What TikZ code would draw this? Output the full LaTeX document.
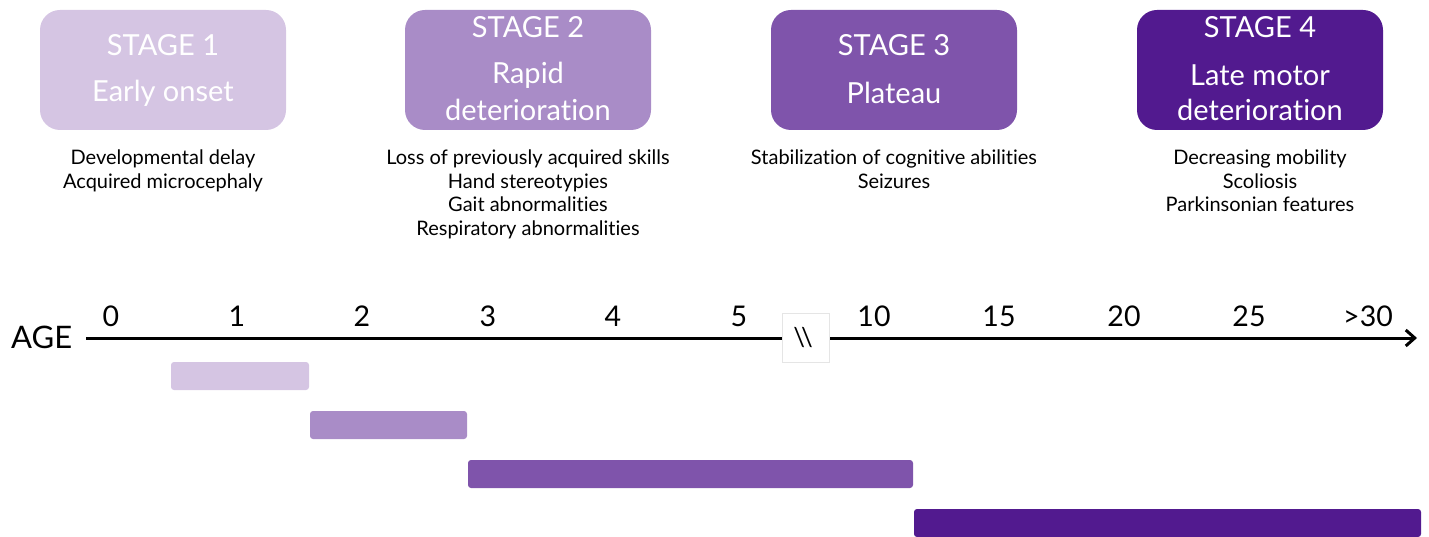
\documentclass[tikz,border=0pt]{standalone}
\usepackage{fontspec}
\setmainfont{Lato}[Ligatures={NoCommon,NoContextual,NoRare}]
\usetikzlibrary{arrows.meta}
\definecolor{sA}{HTML}{D5C5E3}
\definecolor{sB}{HTML}{A98CC7}
\definecolor{sC}{HTML}{7F54AB}
\definecolor{sD}{HTML}{521A8F}
\begin{document}
\begin{tikzpicture}[x=1pt,y=-1pt,
  stagebox/.style={rounded corners=20pt, minimum width=246pt, minimum height=120pt, inner sep=0pt},
  stagetext/.style={text=white, font=\fontsize{29}{35}\selectfont, inner sep=0pt},
  desc/.style={align=center, anchor=north, font=\fontsize{20}{23.5}\selectfont, inner sep=0pt},
  tick/.style={font=\fontsize{28.5}{30}\selectfont, inner sep=0pt},
  bar/.style={rounded corners=3pt, minimum height=28pt, inner sep=0pt}
]
\useasboundingbox (0,0) rectangle (1429,537);
% stage boxes
\node[stagebox, fill=sA] (s1) at (163,70) {};
\node[stagebox, fill=sB] (s2) at (528,70) {};
\node[stagebox, fill=sC] (s3) at (894,70) {};
\node[stagebox, fill=sD] (s4) at (1260,70) {};
\node[stagetext] (t1a) at (163,45) {STAGE 1};
\node[stagetext] (t1b) at (163,93) {Early onset};
\node[stagetext] (t2a) at (528,27) {STAGE 2};
\node[stagetext] (t2b) at (528,75) {Rapid};
\node[stagetext] (t2c) at (528,110) {deterioration};
\node[stagetext] (t3a) at (894,45) {STAGE 3};
\node[stagetext] (t3b) at (894,93) {Plateau};
\node[stagetext] (t4a) at (1260,27) {STAGE 4};
\node[stagetext] (t4b) at (1260,75) {Late motor};
\node[stagetext] (t4c) at (1260,110) {deterioration};
% descriptions
\node[desc] (d1) at (163,150) {Developmental delay\\Acquired microcephaly};
\node[desc] (d2) at (528,150) {Loss of previously acquired skills\\Hand stereotypies\\Gait abnormalities\\Respiratory abnormalities};
\node[desc] (d3) at (894,150) {Stabilization of cognitive abilities\\Seizures};
\node[desc] (d4) at (1260,150) {Decreasing mobility\\Scoliosis\\Parkinsonian features};
% axis
\node[font=\fontsize{31}{35}\selectfont, inner sep=0pt, anchor=west] (age) at (11,337) {AGE};
\coordinate (axs) at (86,338);
\coordinate (axe) at (1417,338);
\draw[line width=3pt, -{Straight Barb[length=9pt,width=16pt,line width=3pt]}] (axs) -- (axe);
\node[fill=white, draw=black!10, line width=0.6pt, minimum width=47pt, minimum height=49pt, inner sep=0pt] (brk) at (805.5,337.5) {};
\node[font=\fontsize{26}{28}\selectfont, inner sep=0pt] (brkt) at (803,338) {\textbackslash\kern-4pt\textbackslash};
\foreach \n/\x/\l in {k0/111/0, k1/237/1, k2/362/2, k3/488/3, k4/613/4, k5/739/5, k10/874/10, k15/999/15, k20/1124/20, k25/1249/25, k30/1368/{>30}}
  \node[tick] (\n) at (\x,316) {\l};
% bars
\node[bar, fill=sA, minimum width=138pt] (b1) at (240,376) {};
\node[bar, fill=sB, minimum width=157pt] (b2) at (388.5,425) {};
\node[bar, fill=sC, minimum width=445pt] (b3) at (690.5,474) {};
\node[bar, fill=sD, minimum width=507pt] (b4) at (1167.5,523) {};
\end{tikzpicture}
\end{document}
